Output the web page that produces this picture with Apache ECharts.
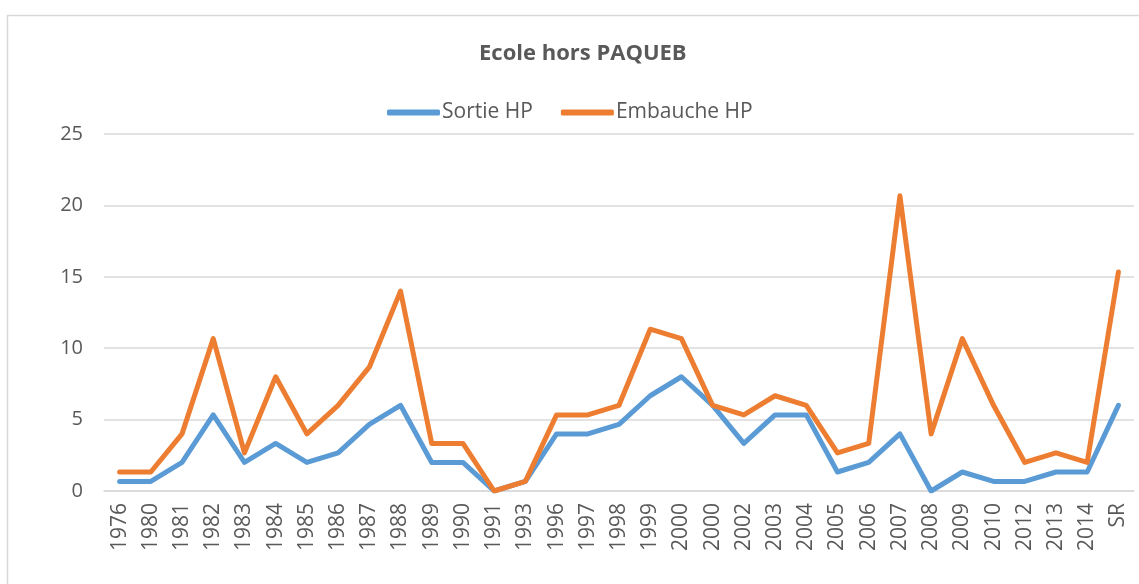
<!DOCTYPE html>
<html>
<head>
<meta charset="utf-8">
<script src="https://cdn.jsdelivr.net/npm/echarts@6/dist/echarts.min.js"></script>
<style>html,body{margin:0;padding:0;background:#fff;}#c{width:1139px;height:584px;}</style>
</head>
<body>
<div id="c"></div>
<script>
const categories = ['1976','1980','1981','1982','1983','1984','1985','1986','1987','1988','1989','1990','1991','1993','1996','1997','1998','1999','2000','2000','2002','2003','2004','2005','2006','2007','2008','2009','2010','2012','2013','2014','SR'];
const sortieHP = [0.67,0.67,2,5.33,2,3.33,2,2.67,4.67,6,2,2,0,0.67,4,4,4.67,6.67,8,6,3.33,5.33,5.33,1.33,2,4,0,1.33,0.67,0.67,1.33,1.33,6];
const embaucheHP = [1.33,1.33,4,10.67,2.67,8,4,6,8.67,14,3.33,3.33,0,0.67,5.33,5.33,6,11.33,10.67,6,5.33,6.67,6,2.67,3.33,20.67,4,10.67,6,2,2.67,2,15.33];
const yTicks = [0,5,10,15,20,25];

const chart = echarts.init(document.getElementById('c'));
const font = '"Open Sans", "Noto Sans", sans-serif';
chart.setOption({
  animation: false,
  backgroundColor: '#fff',
  graphic: [{
    type: 'rect', left: 5, top: 13, shape: {width: 1150, height: 600},
    style: {fill: 'none', stroke: '#d9d9d9', lineWidth: 1.5}, z: -1
  }],
  title: {
    text: 'Ecole hors PAQUEB', left: 474, top: 38,
    textStyle: {fontFamily: font, fontSize: 22, fontWeight: 'bold', color: '#595959'}
  },
  legend: {
    top: 97, left: 382, itemWidth: 53, itemHeight: 6, itemGap: 28,
    icon: 'roundRect',
    textStyle: {fontFamily: font, fontSize: 21, color: '#595959', padding: [0,0,0,-3]},
    data: ['Sortie HP', 'Embauche HP']
  },
  grid: {left: 104, right: 5, top: 134, bottom: 93},
  xAxis: {
    type: 'category', data: categories, boundaryGap: true,
    axisLine: {lineStyle: {color: '#d9d9d9', width: 1.5}},
    axisTick: {show: false},
    axisLabel: {rotate: 90, interval: 0, fontFamily: font, fontSize: 21, color: '#595959', margin: 12}
  },
  yAxis: {
    type: 'value', min: yTicks[0], max: yTicks[yTicks.length-1], interval: 5,
    axisLine: {show: false}, axisTick: {show: false},
    splitLine: {lineStyle: {color: '#d9d9d9', width: 1.5}},
    axisLabel: {fontFamily: font, fontSize: 20, color: '#595959', margin: 21}
  },
  series: [
    {name: 'Sortie HP', type: 'line', data: sortieHP, symbol: 'none',
     lineStyle: {width: 5, color: '#5B9BD5', cap: 'round', join: 'round'}, itemStyle: {color: '#5B9BD5'}},
    {name: 'Embauche HP', type: 'line', data: embaucheHP, symbol: 'none',
     lineStyle: {width: 5, color: '#ED7D31', cap: 'round', join: 'round'}, itemStyle: {color: '#ED7D31'}}
  ]
});
</script>
</body>
</html>
